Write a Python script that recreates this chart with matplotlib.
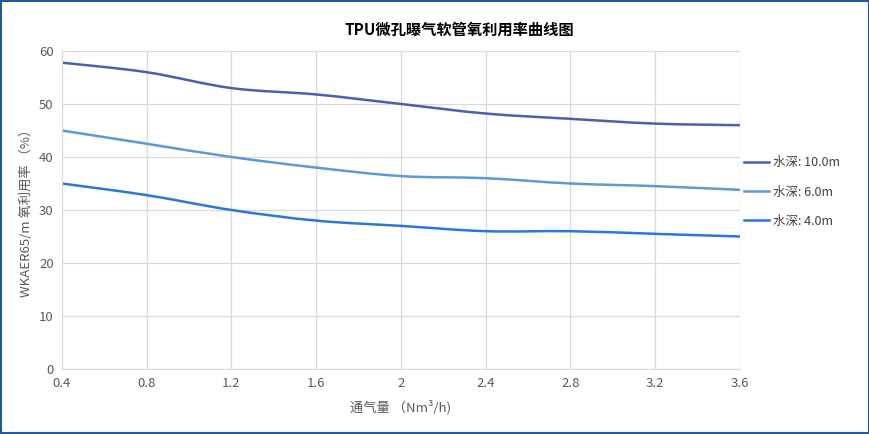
import matplotlib
matplotlib.use("Agg")
import matplotlib.pyplot as plt
from matplotlib.path import Path
from matplotlib.patches import PathPatch, Rectangle
from matplotlib.lines import Line2D

plt.rcParams['font.family'] = ['Noto Sans CJK SC', 'DejaVu Sans']

# data
flow = [0.4, 0.8, 1.2, 1.6, 2.0, 2.4, 2.8, 3.2, 3.6]
depth_10m = [57.8, 56.0, 53.0, 51.8, 50.0, 48.2, 47.2, 46.3, 46.0]
depth_6m = [45.0, 42.5, 40.0, 38.0, 36.4, 36.0, 35.0, 34.5, 33.8]
depth_4m = [35.0, 32.8, 30.0, 28.0, 27.0, 26.0, 26.0, 25.5, 25.0]
labels = ["水深: 10.0m", "水深: 6.0m", "水深: 4.0m"]
colors = ["#4a5fb0", "#5b9bd5", "#2a78d4"]
xticks = [0.4, 0.8, 1.2, 1.6, 2, 2.4, 2.8, 3.2, 3.6]


def smooth_path(xs, ys, t=1 / 6):
    # Catmull-Rom style bezier, like Excel's smoothed line
    verts = [(xs[0], ys[0])]
    codes = [Path.MOVETO]
    n = len(xs)
    for i in range(n - 1):
        x0, y0 = xs[max(i - 1, 0)], ys[max(i - 1, 0)]
        x1, y1 = xs[i], ys[i]
        x2, y2 = xs[i + 1], ys[i + 1]
        x3, y3 = xs[min(i + 2, n - 1)], ys[min(i + 2, n - 1)]
        c1 = (x1 + (x2 - x0) * t, y1 + (y2 - y0) * t)
        c2 = (x2 - (x3 - x1) * t, y2 - (y3 - y1) * t)
        verts += [c1, c2, (x2, y2)]
        codes += [Path.CURVE4] * 3
    return Path(verts, codes)


fig = plt.figure(figsize=(8.7, 4.34), dpi=100)
ax = fig.add_axes([62 / 870, 1 - 369 / 434, 678 / 870, 318 / 434])

for ys, c in zip([depth_10m, depth_6m, depth_4m], colors):
    ax.add_patch(PathPatch(smooth_path(flow, ys), fill=False, edgecolor=c, lw=1.8))

ax.set_xlim(0.4, 3.6)
ax.set_ylim(0, 60)
ax.set_xticks(xticks)
ax.set_xticklabels([str(v) for v in xticks])
ax.set_yticks(range(0, 61, 10))
ax.grid(True, color="#d9d9d9", lw=0.9)
ax.set_axisbelow(True)
for s in ["top", "right"]:
    ax.spines[s].set_visible(False)
for s in ["left", "bottom"]:
    ax.spines[s].set_color("#d9d9d9")
ax.tick_params(length=0, labelsize=9.5, colors="#595959", pad=6)

fig.text(459 / 870, 1 - 30 / 434, "TPU微孔曝气软管氧利用率曲线图", fontsize=11,
         fontweight="bold", ha="center", va="center")
ax.set_xlabel("通气量 （Nm³/h)", fontsize=9.5, color="#595959", labelpad=7)
ax.set_ylabel("WKAER65/m 氧利用率 （%）", fontsize=9.5, color="#595959", labelpad=4)

handles = [Line2D([], [], color=c, lw=1.8) for c in colors]
fig.legend(handles, labels, loc="upper left", bbox_to_anchor=(733 / 870, 1 - 145 / 434),
           frameon=False, fontsize=9, labelcolor="#404040", handlelength=2.0,
           handletextpad=0.3, labelspacing=1.3)

fig.patches.append(Rectangle((0.0015, 0.003), 0.997, 0.994, transform=fig.transFigure,
                             fill=False, edgecolor="#1f5b9a", lw=1.5))

fig.savefig("out.png", dpi=100)
